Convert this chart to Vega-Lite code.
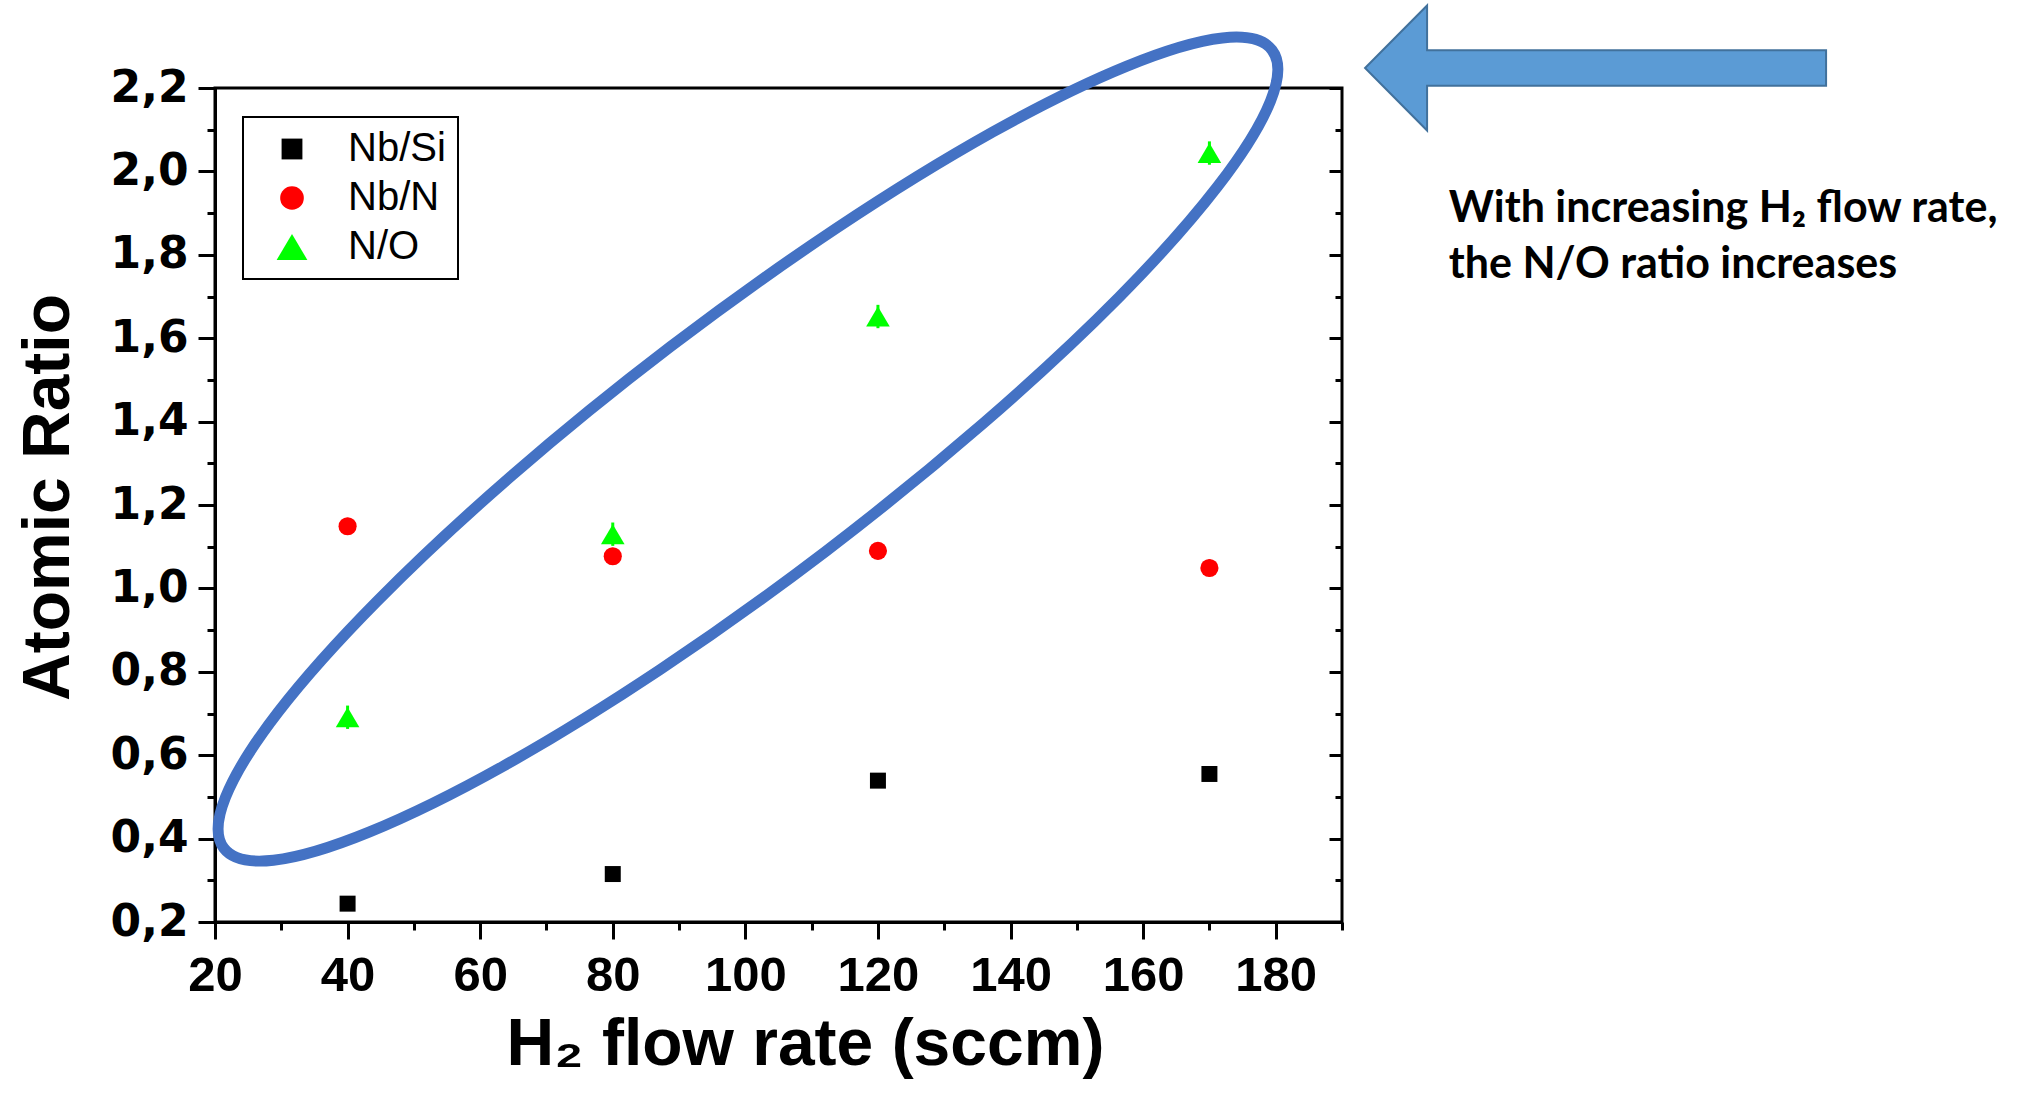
{
  "$schema": "https://vega.github.io/schema/vega-lite/v6.json",
  "autosize": {"type": "none"},
  "width": 1127,
  "height": 834,
  "padding": {"left": 215, "top": 88, "right": 692, "bottom": 189},
  "background": "white",
  "config": {
    "view": {"stroke": "black", "strokeWidth": 3},
    "axis": {"domainColor": "black", "domainWidth": 3, "tickColor": "black", "tickWidth": 3, "grid": false, "labelColor": "black", "titleColor": "black"},
    "legend": {"strokeWidth": 2}
  },
  "datasets": {
    "points": [
      {"series": "Nb/Si", "h2": 40, "ratio": 0.244, "lo": 0.236, "hi": 0.252},
      {"series": "Nb/Si", "h2": 80, "ratio": 0.315, "lo": 0.307, "hi": 0.323},
      {"series": "Nb/Si", "h2": 120, "ratio": 0.539, "lo": 0.531, "hi": 0.547},
      {"series": "Nb/Si", "h2": 170, "ratio": 0.555, "lo": 0.547, "hi": 0.563},
      {"series": "Nb/N", "h2": 40, "ratio": 1.149, "lo": 1.129, "hi": 1.169},
      {"series": "Nb/N", "h2": 80, "ratio": 1.077, "lo": 1.057, "hi": 1.097},
      {"series": "Nb/N", "h2": 120, "ratio": 1.090, "lo": 1.070, "hi": 1.110},
      {"series": "Nb/N", "h2": 170, "ratio": 1.049, "lo": 1.029, "hi": 1.069},
      {"series": "N/O", "h2": 40, "ratio": 0.691, "lo": 0.663, "hi": 0.719},
      {"series": "N/O", "h2": 80, "ratio": 1.130, "lo": 1.102, "hi": 1.158},
      {"series": "N/O", "h2": 120, "ratio": 1.652, "lo": 1.624, "hi": 1.680},
      {"series": "N/O", "h2": 170, "ratio": 2.044, "lo": 2.016, "hi": 2.072}
    ],
    "ellipse": [
      {"i": 0, "x": 179.45, "y": 2.291},
      {"i": 1, "x": 179.22, "y": 2.169},
      {"i": 2, "x": 171.24, "y": 1.964},
      {"i": 3, "x": 156.35, "y": 1.698},
      {"i": 4, "x": 135.97, "y": 1.397},
      {"i": 5, "x": 112.13, "y": 1.089},
      {"i": 6, "x": 87.11, "y": 0.805},
      {"i": 7, "x": 63.40, "y": 0.573},
      {"i": 8, "x": 43.32, "y": 0.416},
      {"i": 9, "x": 28.82, "y": 0.348},
      {"i": 10, "x": 21.33, "y": 0.377},
      {"i": 11, "x": 21.58, "y": 0.499},
      {"i": 12, "x": 29.55, "y": 0.704},
      {"i": 13, "x": 44.43, "y": 0.969},
      {"i": 14, "x": 64.81, "y": 1.271},
      {"i": 15, "x": 88.66, "y": 1.579},
      {"i": 16, "x": 113.67, "y": 1.863},
      {"i": 17, "x": 137.38, "y": 2.095},
      {"i": 18, "x": 157.47, "y": 2.252},
      {"i": 19, "x": 171.96, "y": 2.320}
    ],
    "arrow": [
      {"x": 228.25, "y": 2.248}
    ],
    "note": [
      {"x": 206.1, "y": 1.879, "text": "With increasing H₂ flow rate,"},
      {"x": 206.1, "y": 1.744, "text": "the N/O ratio increases"}
    ]
  },
  "layer": [
    {
      "data": {"name": "points"},
      "transform": [{"filter": {"field": "series", "equal": "Nb/Si"}}],
      "mark": {"type": "rule", "strokeWidth": 3, "color": "#000000"},
      "encoding": {
        "x": {"field": "h2", "type": "quantitative", "scale": {"domain": [20, 190], "nice": false, "zero": false}, "axis": null},
        "y": {"field": "lo", "type": "quantitative", "scale": {"domain": [0.2, 2.2], "nice": false, "zero": false},
          "axis": {"orient": "right", "title": null, "labels": false, "domain": false,
            "values": [0.2,0.3,0.4,0.5,0.6,0.7,0.8,0.9,1.0,1.1,1.2,1.3,1.4,1.5,1.6,1.7,1.8,1.9,2.0,2.1,2.2],
            "tickSize": {"condition": {"test": "round(datum.value*10) % 2 === 0", "value": -13}, "value": -7}}},
        "y2": {"field": "hi"}
      }
    },
    {
      "data": {"name": "points"},
      "transform": [{"filter": {"field": "series", "equal": "Nb/N"}}],
      "mark": {"type": "rule", "strokeWidth": 3, "color": "#ff0000"},
      "encoding": {
        "x": {"field": "h2", "type": "quantitative", "axis": null},
        "y": {"field": "lo", "type": "quantitative", "axis": null},
        "y2": {"field": "hi"}
      }
    },
    {
      "data": {"name": "points"},
      "transform": [{"filter": {"field": "series", "equal": "N/O"}}],
      "mark": {"type": "rule", "strokeWidth": 3, "color": "#00ff00"},
      "encoding": {
        "x": {"field": "h2", "type": "quantitative", "axis": null},
        "y": {"field": "lo", "type": "quantitative", "axis": null},
        "y2": {"field": "hi"}
      }
    },
    {
      "data": {"name": "points"},
      "mark": {"type": "point", "filled": true, "opacity": 1, "size": 330},
      "encoding": {
        "x": {"field": "h2", "type": "quantitative", "scale": {"domain": [20, 190], "nice": false, "zero": false},
          "axis": {"orient": "bottom", "title": "H₂ flow rate (sccm)",
            "values": [20,30,40,50,60,70,80,90,100,110,120,130,140,150,160,170,180,190],
            "labelExpr": "datum.value % 20 === 0 ? datum.label : ''",
            "tickSize": {"condition": {"test": "datum.value % 20 === 0", "value": 17}, "value": 8},
            "labelFont": "Liberation Sans", "labelFontWeight": "bold", "labelFontSize": 49, "labelPadding": 12, "labelFlush": false,
            "titleFont": "Liberation Sans", "titleFontWeight": "bold", "titleFontSize": 66,
            "titleX": 590, "titleY": 142, "titleBaseline": "alphabetic", "titleAlign": "center"}},
        "y": {"field": "ratio", "type": "quantitative", "scale": {"domain": [0.2, 2.2], "nice": false, "zero": false},
          "axis": {"orient": "left", "title": "Atomic Ratio",
            "values": [0.2,0.3,0.4,0.5,0.6,0.7,0.8,0.9,1.0,1.1,1.2,1.3,1.4,1.5,1.6,1.7,1.8,1.9,2.0,2.1,2.2],
            "labelExpr": "round(datum.value*10) % 2 === 0 ? replace(format(datum.value, '.1f'), '.', ',') : ''",
            "tickSize": {"condition": {"test": "round(datum.value*10) % 2 === 0", "value": 17}, "value": 8},
            "labelFont": "DejaVu Sans", "labelFontWeight": "bold", "labelFontSize": 44, "labelPadding": 10, "labelFlush": false,
            "titleFont": "Liberation Sans", "titleFontWeight": "bold", "titleFontSize": 66,
            "titleX": -147, "titleY": 409, "titleBaseline": "alphabetic", "titleAlign": "center", "titleAngle": -90}},
        "color": {"field": "series", "type": "nominal", "scale": {"domain": ["Nb/Si", "Nb/N", "N/O"], "range": ["#000000", "#ff0000", "#00ff00"]},
          "legend": {"title": null, "orient": "none", "legendX": 28, "legendY": 29, "strokeColor": "black", "fillColor": "white",
            "padding": 12, "symbolOffset": 17, "labelOffset": 36, "labelFont": "Liberation Sans", "labelFontSize": 40, "labelColor": "black",
            "symbolSize": 560, "rowPadding": 9, "labelLimit": 400}},
        "shape": {"field": "series", "type": "nominal", "scale": {"domain": ["Nb/Si", "Nb/N", "N/O"], "range": ["M-0.88,-0.88L0.88,-0.88L0.88,0.88L-0.88,0.88Z", "circle", "M0,-1.1L1.3,1.1L-1.3,1.1Z"]}}
      }
    },
    {
      "data": {"name": "ellipse"},
      "mark": {"type": "line", "interpolate": "cardinal-closed", "stroke": "#4472c4", "strokeWidth": 11},
      "encoding": {
        "x": {"field": "x", "type": "quantitative", "axis": null},
        "y": {"field": "y", "type": "quantitative", "axis": null},
        "order": {"field": "i", "type": "quantitative"}
      }
    },
    {
      "data": {"name": "arrow"},
      "mark": {"type": "point", "filled": true, "shape": "M-1,0L-0.731,-0.271L-0.731,-0.077L1,-0.077L1,0.077L-0.731,0.077L-0.731,0.271Z", "size": 212521, "fill": "#5b9bd5", "stroke": "#41719c", "strokeWidth": 2, "opacity": 1, "fillOpacity": 1, "strokeOpacity": 1},
      "encoding": {
        "x": {"field": "x", "type": "quantitative", "axis": null},
        "y": {"field": "y", "type": "quantitative", "axis": null}
      }
    },
    {
      "data": {"name": "note"},
      "mark": {"type": "text", "align": "left", "baseline": "alphabetic", "font": "Lato", "fontWeight": "bold", "fontSize": 43, "color": "black"},
      "encoding": {
        "x": {"field": "x", "type": "quantitative", "axis": null},
        "y": {"field": "y", "type": "quantitative", "axis": null},
        "text": {"field": "text"}
      }
    }
  ],
  "resolve": {"axis": {"x": "independent", "y": "independent"}}
}
